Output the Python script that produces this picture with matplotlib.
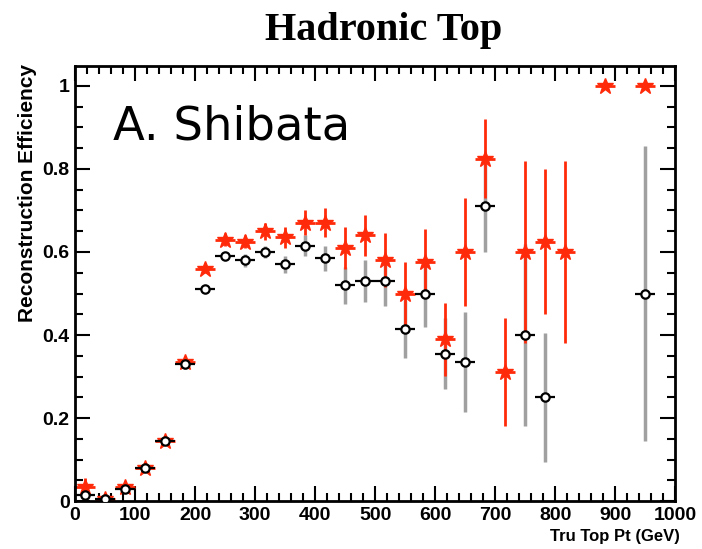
import numpy as np
import matplotlib
matplotlib.use("Agg")
import matplotlib.pyplot as plt
from matplotlib.ticker import MultipleLocator

# bin centres (GeV), 30 bins of 33.3 GeV from 0 to 1000
x_red = [17, 50, 83, 117, 150, 183, 217, 250, 283, 317, 350, 383, 417, 450,
         483, 517, 550, 583, 617, 650, 683, 717, 750, 783, 817, 883, 950]
y_red = [0.035, 0.005, 0.035, 0.08, 0.145, 0.335, 0.56, 0.63, 0.625, 0.65,
         0.635, 0.67, 0.67, 0.61, 0.64, 0.58, 0.50, 0.575, 0.39, 0.60, 0.825,
         0.31, 0.60, 0.625, 0.60, 1.0, 1.0]
e_red = [0.02, 0.005, 0.01, 0.008, 0.01, 0.012, 0.01, 0.015, 0.015, 0.02,
         0.025, 0.03, 0.035, 0.05, 0.05, 0.065, 0.075, 0.08, 0.088, 0.13,
         0.095, 0.13, 0.22, 0.175, 0.22, 0.0, 0.0]

x_blk = [17, 50, 83, 117, 150, 183, 217, 250, 283, 317, 350, 383, 417, 450,
         483, 517, 550, 583, 617, 650, 683, 750, 783, 950]
y_blk = [0.015, 0.005, 0.03, 0.08, 0.145, 0.33, 0.51, 0.59, 0.58, 0.60, 0.57,
         0.615, 0.585, 0.52, 0.53, 0.53, 0.415, 0.50, 0.355, 0.335, 0.71,
         0.40, 0.25, 0.50]
e_blk = [0.015, 0.005, 0.01, 0.008, 0.01, 0.012, 0.008, 0.01, 0.015, 0.015,
         0.02, 0.025, 0.03, 0.045, 0.05, 0.06, 0.07, 0.08, 0.085, 0.12, 0.11,
         0.22, 0.155, 0.355]

half_bin = 1000 / 30 / 2
red = '#ff2a0a'

fig = plt.figure(figsize=(7.02, 5.49), dpi=100)
ax = fig.add_axes([0.107, 0.087, 0.855, 0.793])

# gray vertical error bars for the circles
ax.errorbar(x_blk, y_blk, yerr=e_blk, fmt='none', ecolor='#a0a0a0',
            elinewidth=2.5, capsize=0, zorder=1)
# red stars
ax.errorbar(x_red, y_red, yerr=e_red, xerr=half_bin, fmt='*', color=red,
            ms=12, mec=red, elinewidth=2, capsize=0, zorder=2)
# black open circles with horizontal bars
ax.errorbar(x_blk, y_blk, xerr=half_bin, fmt='o', color='black', ms=6,
            mfc='white', mec='black', mew=1.6, elinewidth=1.6, capsize=0,
            zorder=3)

ax.set_xlim(0, 1000)
ax.set_ylim(0, 1.048)
ax.xaxis.set_minor_locator(MultipleLocator(20))
ax.yaxis.set_minor_locator(MultipleLocator(0.05))
ax.tick_params(which='both', direction='in', top=True, right=True, width=1.5,
               labelsize=14, pad=4)
ax.tick_params(which='major', length=11)
ax.tick_params(which='minor', length=6)
ax.set_xticks(np.arange(0, 1001, 100))
ax.set_xticklabels([str(v) for v in range(0, 1001, 100)])
ax.set_yticks([0, 0.2, 0.4, 0.6, 0.8, 1.0])
ax.set_yticklabels(['0', '0.2', '0.4', '0.6', '0.8', '1'])
for lab in ax.get_xticklabels() + ax.get_yticklabels():
    lab.set_family('Liberation Sans')
    lab.set_fontweight('bold')
for s in ax.spines.values():
    s.set_linewidth(2)

fig.text(0.546, 0.945, 'Hadronic Top', family='Liberation Serif',
         fontweight='bold', fontsize=29, ha='center', va='center')
fig.text(28 / 702, 1 - 64 / 549, 'Reconstruction Efficiency', rotation=90,
         family='Liberation Sans', fontweight='bold', fontsize=15,
         ha='center', va='top')
fig.text(680 / 702, 1 - 537 / 549, 'Tru Top Pt (GeV)',
         family='Liberation Sans', fontweight='bold', fontsize=12,
         ha='right', va='center')
ax.text(63, 0.87, 'A. Shibata', family='DejaVu Sans', fontsize=33.5,
        ha='left', va='baseline')

fig.savefig('out.png', dpi=100)
